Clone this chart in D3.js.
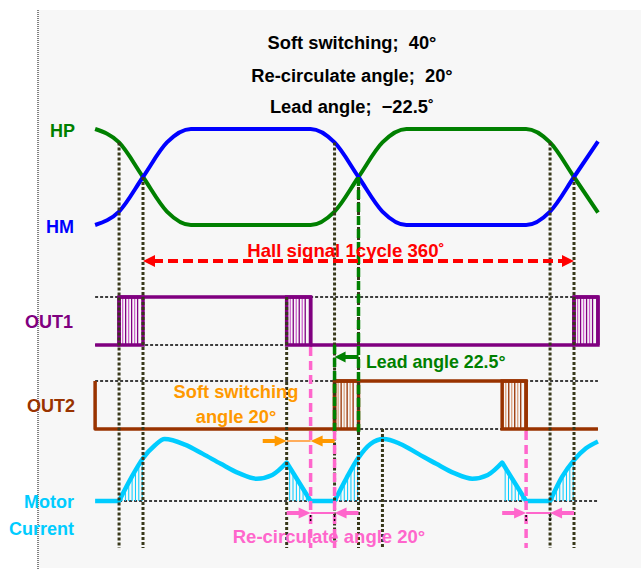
<!DOCTYPE html>
<html>
<head>
<meta charset="utf-8">
<script src="https://cdn.jsdelivr.net/npm/d3@7"></script>
<style>
  body { margin: 0; background: #fff; }
  text { font-family: "Liberation Sans", Arial, sans-serif; font-weight: bold; white-space: pre; }
</style>
</head>
<body>
<svg width="641" height="570"></svg>
<script>
// electrical angle (deg) of each sample point
var hallAngles = [-40, -20, 0, 20, 40, 140, 160, 180, 200, 220, 320, 340, 360, 380];
var hpLevels   = [1, 0.86, 0.5, 0.14, 0, 0, 0.14, 0.5, 0.86, 1, 1, 0.86, 0.5, 0.13];
var hmLevels   = [0, 0.14, 0.5, 0.86, 1, 1, 0.86, 0.5, 0.14, 0, 0, 0.14, 0.5, 0.87];

var out1Steps = [[-40, 0], [-20, 0], [-20, 1], [140, 1], [140, 0], [360, 0], [360, 1], [380, 1], [380, 0]];
var out1Pwm   = [[-20, 0], [120, 140], [360, 380]];
var out2Steps = [[-40, 1], [-40, 0], [160, 0], [160, 1], [320, 1], [320, 0], [380, 0]];
var out2Pwm   = [[160, 180], [300, 320]];
var pwmHatch  = [3, 5.5, 8, 10.5, 13, 15.5];   // hatch offsets inside a pwm box (deg)

var currentAngles = [-40, -20, -10, 0, 10, 18, 35, 50, 65, 80, 95, 108, 120, 140, 160,
                     170, 180, 190, 201, 215, 230, 245, 260, 275, 288, 300, 320, 340, 350, 360, 370, 380];
var currentLevels = [0, 0, 0.37, 0.69, 0.9, 1, 0.91, 0.76, 0.6, 0.45, 0.36, 0.42, 0.62, 0, 0,
                     0.37, 0.7, 0.92, 1, 0.92, 0.76, 0.6, 0.45, 0.36, 0.42, 0.62, 0, 0, 0.39, 0.66, 0.85, 0.96];
var currentCorners = [-20, 120, 140, 160, 300, 320, 340];
var currentHatch = [[-20, 0], [120, 140], [160, 180], [300, 320], [340, 360]];

var guideAngles = [-20, 0, 120, 160, 180, 200, 340, 360];
var guideFrom   = ["hall", "hall", "out1High", "hall", "hall", "out2Low", "hall", "hall"];
var pinkAngles  = [140, 160, 320];
var pinkFrom    = ["out1Low", "out2Low", "out2Low"];

var titles = ["Soft switching;  40°", "Re-circulate angle;  20°", "Lead angle;  \u221222.5\u02da"];

var svg = d3.select("svg");
var x = d3.scaleLinear().domain([0, 360]).range([143, 574]);
var yHall = d3.scaleLinear().domain([0, 1]).range([225, 129]);
var yOut1 = d3.scaleLinear().domain([0, 1]).range([345, 297]);
var yOut2 = d3.scaleLinear().domain([0, 1]).range([429, 381]);
var yCur  = d3.scaleLinear().domain([0, 1]).range([501, 439]);
var bottom = 548;

var C = { hp: "#008000", hm: "#0000ff", out1: "#800080", out1L: "#cc66cc", out2: "#993300", out2L: "#d9a27e",
          cur: "#00ccff", red: "#ff0000", orange: "#ff9900", pink: "#ff66cc", guide: "#38381a" };

// background
svg.append("rect").attr("x", 39).attr("y", 10).attr("width", 602).attr("height", 558).attr("fill", "#f7f7f7");
svg.append("line").attr("x1", 38).attr("x2", 38).attr("y1", 10).attr("y2", 570)
  .attr("stroke", "#000").attr("stroke-width", 1).attr("stroke-dasharray", "1,1");

// titles
titles.forEach(function (t, i) {
  svg.append("text").attr("x", 352).attr("y", [49, 82, 113][i]).attr("text-anchor", "middle")
    .attr("font-size", 18.3).attr("fill", "#000").text(t);
});

// horizontal reference lines
[[yOut1(1), -40], [yOut1(0), -40], [yOut2(1), -40], [yOut2(0), -40], [yCur(0), -20]].forEach(function (r) {
  svg.append("line").attr("x1", x(r[1])).attr("x2", x(380)).attr("y1", r[0]).attr("y2", r[0])
    .attr("stroke", "#000").attr("stroke-width", 1.5).attr("stroke-dasharray", "3,2");
});

// hall signals
var hallLine = d3.line().x(function (d) { return x(d[0]); }).y(function (d) { return yHall(d[1]); })
  .curve(d3.curveMonotoneX);
svg.append("path").attr("d", hallLine(hallAngles.map(function (a, i) { return [a, hpLevels[i]]; })))
  .attr("fill", "none").attr("stroke", C.hp).attr("stroke-width", 4);
svg.append("path").attr("d", hallLine(hallAngles.map(function (a, i) { return [a, hmLevels[i]]; })))
  .attr("fill", "none").attr("stroke", C.hm).attr("stroke-width", 4);

// motor current: split at the corners, smooth in between
var curPts = currentAngles.map(function (a, i) { return [a, currentLevels[i]]; });
var pieces = [], cur = [];
curPts.forEach(function (p) {
  cur.push(p);
  if (currentCorners.indexOf(p[0]) >= 0) { pieces.push(cur); cur = [p]; }
});
if (cur.length > 1) pieces.push(cur);
var curLine = d3.line().x(function (d) { return x(d[0]); }).y(function (d) { return yCur(d[1]); })
  .curve(d3.curveMonotoneX);
var curD = pieces.map(function (p, i) { var d = curLine(p); return i ? "L" + d.slice(1) : d; }).join("");

svg.append("clipPath").attr("id", "under-current").append("path")
  .attr("d", curD + "L" + x(380) + "," + yCur(0) + "L" + x(-40) + "," + yCur(0) + "Z");
var hatchG = svg.append("g").attr("clip-path", "url(#under-current)");
currentHatch.forEach(function (r) {
  d3.range(r[0] + 2.5, r[1], 2.8).forEach(function (a) {
    hatchG.append("line").attr("x1", x(a)).attr("x2", x(a)).attr("y1", yCur(0)).attr("y2", 430)
      .attr("stroke", C.cur).attr("stroke-width", 1);
  });
});
svg.append("path").attr("d", curD).attr("fill", "none").attr("stroke", C.cur).attr("stroke-width", 4.5)
  .attr("stroke-linejoin", "round");

// OUT1 / OUT2
function drawOut(steps, pwm, y, dark, light) {
  var line = d3.line().x(function (d) { return x(d[0]); }).y(function (d) { return y(d[1]); });
  pwm.forEach(function (b) {
    pwmHatch.forEach(function (o, i) {
      svg.append("line").attr("x1", x(b[0] + o)).attr("x2", x(b[0] + o)).attr("y1", y(1)).attr("y2", y(0))
        .attr("stroke", i % 2 ? dark : light).attr("stroke-width", 1.3);
    });
    svg.append("rect").attr("x", x(b[0])).attr("y", y(1)).attr("width", x(b[1]) - x(b[0]))
      .attr("height", y(0) - y(1)).attr("fill", "none").attr("stroke", dark).attr("stroke-width", 3.5);
  });
  svg.append("path").attr("d", line(steps)).attr("fill", "none").attr("stroke", dark)
    .attr("stroke-width", 3.5).attr("stroke-linejoin", "round");
}
drawOut(out1Steps, out1Pwm, yOut1, C.out1, C.out1L);
drawOut(out2Steps, out2Pwm, yOut2, C.out2, C.out2L);

// vertical guides
function rowTop(kind, a) {
  if (kind == "hall") {
    var i = hallAngles.indexOf(a);
    return yHall(Math.max(hpLevels[i], hmLevels[i]));
  }
  if (kind == "out1High") return yOut1(1);
  if (kind == "out1Low") return yOut1(0);
  return yOut2(0);
}
guideAngles.forEach(function (a, i) {
  svg.append("line").attr("x1", x(a)).attr("x2", x(a)).attr("y1", rowTop(guideFrom[i], a)).attr("y2", bottom)
    .attr("stroke", C.guide).attr("stroke-width", 3).attr("stroke-dasharray", "3,2");
});
// lead angle markers
svg.append("line").attr("x1", x(180)).attr("x2", x(180)).attr("y1", yHall(0.5)).attr("y2", yOut2(0) + 3)
  .attr("stroke", C.hp).attr("stroke-width", 3.5).attr("stroke-dasharray", "9,4");
svg.append("line").attr("x1", x(160)).attr("x2", x(160)).attr("y1", yOut1(0)).attr("y2", yOut2(0) + 4)
  .attr("stroke", C.hp).attr("stroke-width", 3.5).attr("stroke-dasharray", "9,4");
pinkAngles.forEach(function (a, i) {
  svg.append("line").attr("x1", x(a)).attr("x2", x(a)).attr("y1", rowTop(pinkFrom[i], a) + 2).attr("y2", bottom)
    .attr("stroke", C.pink).attr("stroke-width", 3.5).attr("stroke-dasharray", "9,5");
});

// arrows
function head(tip, y, dir, color, len, half) {
  svg.append("path").attr("d", "M" + tip + "," + y + "L" + (tip - dir * len) + "," + (y - half) +
      "L" + (tip - dir * len) + "," + (y + half) + "Z").attr("fill", color);
}
function gapMark(a0, a1, y, color, thin, tick) {
  svg.append("line").attr("x1", x(a0)).attr("x2", x(a1)).attr("y1", y).attr("y2", y)
    .attr("stroke", thin).attr("stroke-width", 2);
  svg.append("line").attr("x1", x(a0 - 20)).attr("x2", x(a0) - 8).attr("y1", y).attr("y2", y)
    .attr("stroke", color).attr("stroke-width", 4);
  head(x(a0), y, 1, color, 12, 5.5);
  svg.append("line").attr("x1", x(a1 + 20)).attr("x2", x(a1) + 8).attr("y1", y).attr("y2", y)
    .attr("stroke", color).attr("stroke-width", 4);
  head(x(a1), y, -1, color, 12, 5.5);
  if (tick) [a0, a1].forEach(function (a) {
    svg.append("line").attr("x1", x(a)).attr("x2", x(a)).attr("y1", y + 2).attr("y2", y + 9)
      .attr("stroke", "#000").attr("stroke-width", 1.5).attr("stroke-dasharray", "2,2");
  });
}
gapMark(120, 140, 441, C.orange, "#ffad5c", false);
gapMark(140, 160, 513, C.pink, C.pink, true);
gapMark(320, 340, 513, C.pink, C.pink, true);

// lead angle arrow
svg.append("line").attr("x1", x(160) + 8).attr("x2", x(180)).attr("y1", 357).attr("y2", 357)
  .attr("stroke", C.hp).attr("stroke-width", 4);
head(x(160), 357, -1, C.hp, 11, 5.5);

// hall 1 cycle arrow
svg.append("line").attr("x1", x(0) + 10).attr("x2", x(360) - 10).attr("y1", 261).attr("y2", 261)
  .attr("stroke", C.red).attr("stroke-width", 4).attr("stroke-dasharray", "10,5");
head(x(0), 261, -1, C.red, 12, 6);
head(x(360), 261, 1, C.red, 12, 6);

// labels
var labels = [["HP", 75, 137, C.hp], ["HM", 74, 233, C.hm], ["OUT1", 73, 328, C.out1],
              ["OUT2", 75, 412, C.out2], ["Motor", 74, 508, C.cur], ["Current", 74, 535, C.cur]];
labels.forEach(function (l) {
  svg.append("text").attr("x", l[1]).attr("y", l[2]).attr("text-anchor", "end")
    .attr("font-size", 18).attr("fill", l[3]).text(l[0]);
});

svg.append("text").attr("x", 346).attr("y", 257).attr("text-anchor", "middle").attr("font-size", 18.6)
  .attr("fill", C.red).text("Hall signal 1cycle 360\u02da");
svg.append("text").attr("x", 366).attr("y", 368).attr("font-size", 17.8).attr("fill", C.hp)
  .text("Lead angle 22.5°");
svg.append("text").attr("x", 236).attr("y", 398).attr("text-anchor", "middle").attr("font-size", 18.3)
  .attr("fill", C.orange).text("Soft switching");
svg.append("text").attr("x", 236).attr("y", 423).attr("text-anchor", "middle").attr("font-size", 18.3)
  .attr("fill", C.orange).text("angle 20°");
svg.append("text").attr("x", 329).attr("y", 543).attr("text-anchor", "middle").attr("font-size", 18.5)
  .attr("fill", C.pink).text("Re-circulate angle 20°");
</script>
</body>
</html>
